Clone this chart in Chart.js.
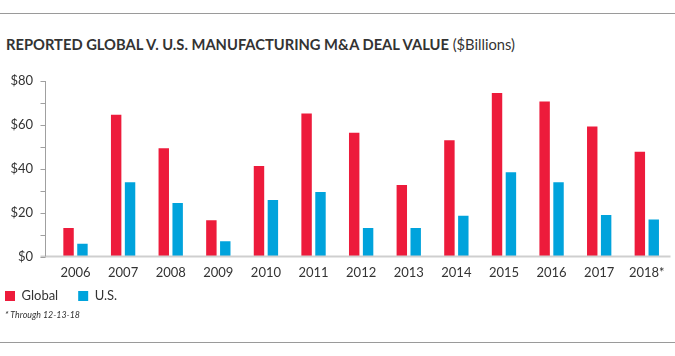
<!DOCTYPE html>
<html>
<head>
<meta charset="utf-8">
<script src="https://cdn.jsdelivr.net/npm/chart.js@4"></script>
<style>
  html, body { margin: 0; padding: 0; background: #fff; }
  #page { position: relative; width: 675px; height: 356px; overflow: hidden; background: #fff; font-family: Lato, "Open Sans", sans-serif; }
  .rule { position: absolute; left: 0; width: 675px; height: 0; border-top: 1.5px solid #9a9a9a; }
  #title { position: absolute; left: 6px; top: 38px; font-size: 14.5px; line-height: 14px; color: #333; white-space: nowrap; transform-origin: 0 0; }
  #title b { font-weight: 700; }
  #title span { font-weight: 400; }
  #note { position: absolute; left: 5px; top: 308px; font-size: 10px; line-height: 12px; font-style: italic; color: #333; white-space: nowrap; transform-origin: 0 0; }
  #wrap { position: absolute; left: -15px; top: 0; width: 690px; height: 356px; }
</style>
</head>
<body>
<div id="page">
  <div class="rule" style="top:12.5px"></div>
  <div id="title"><b>REPORTED GLOBAL V. U.S. MANUFACTURING M&amp;A DEAL VALUE</b> <span>($Billions)</span></div>
  <div id="wrap"><canvas id="c" width="690" height="356"></canvas></div>
  <div id="note">* Through 12-13-18</div>
  <div class="rule" style="top:341.5px"></div>
</div>
<script>
const years = ["2006","2007","2008","2009","2010","2011","2012","2013","2014","2015","2016","2017","2018*"];
const globalValues = [13, 64.6, 49.4, 16.5, 41.3, 65.2, 56.4, 32.6, 53, 74.5, 70.7, 59.3, 47.8];
const usValues = [5.8, 33.8, 24.4, 6.9, 25.8, 29.4, 13, 13, 18.6, 38.4, 33.8, 18.9, 16.9];
const yTickValues = [0, 20, 40, 60, 80];
const seriesNames = ["Global", "U.S."];

function fitWidth(id, target) {
  const t = document.getElementById(id);
  const w = t.getBoundingClientRect().width;
  t.style.transform = 'scaleX(' + (target / w) + ')';
}
fitWidth('title', 509);
fitWidth('note', 75);

const axisPlugin = {
  id: 'axisLines',
  afterLayout(chart) {
    if (chart.legend) {
      chart.legend.top -= 12;
      chart.legend.bottom -= 12;
    }
  },
  afterDatasetsDraw(chart) {
    const ctx = chart.ctx;
    const y = chart.scales.y;
    const axX = 60.5;
    ctx.save();
    ctx.strokeStyle = '#cfcfcf';
    ctx.lineWidth = 2;
    ctx.beginPath();
    ctx.moveTo(55.5, y.getPixelForValue(0));
    ctx.lineTo(685.5, y.getPixelForValue(0));
    ctx.stroke();
    ctx.strokeStyle = '#a0a0a0';
    ctx.lineWidth = 1;
    ctx.beginPath();
    ctx.moveTo(axX, y.getPixelForValue(80));
    ctx.lineTo(axX, y.getPixelForValue(0));
    ctx.stroke();
    for (let v = 0; v <= 80; v += 10) {
      const py = Math.round(y.getPixelForValue(v)) + 0.5;
      ctx.beginPath();
      ctx.moveTo(55.5, py);
      ctx.lineTo(axX, py);
      ctx.stroke();
    }
    ctx.restore();
  }
};

new Chart(document.getElementById('c'), {
  type: 'bar',
  data: {
    labels: years,
    datasets: [
      { label: seriesNames[0], data: globalValues, backgroundColor: '#ED1B3B', borderWidth: 0 },
      { label: seriesNames[1], data: usValues, backgroundColor: '#00A3DC', borderWidth: 0 }
    ]
  },
  options: {
    responsive: false,
    animation: false,
    devicePixelRatio: 1,
    layout: { padding: { left: 0, right: 4.4, top: 81, bottom: 31.5 } },
    datasets: { bar: { categoryPercentage: 0.584, barPercentage: 0.75 } },
    scales: {
      x: {
        grid: { display: false, drawTicks: false },
        border: { display: false },
        ticks: { color: '#333', font: { family: 'Lato', size: 13 }, padding: 9, maxRotation: 0, autoSkip: false },
        afterFit(s) { s.height = 25; }
      },
      y: {
        min: 0, max: 80,
        afterBuildTicks(s) { s.ticks = yTickValues.map(v => ({ value: v })); },
        grid: { display: false, drawTicks: false },
        border: { display: false },
        ticks: { color: '#333', font: { family: 'Lato', size: 13 }, padding: 18.7, callback: v => '$' + v },
        afterFit(s) { s.width = 66.7; }
      }
    },
    plugins: {
      legend: {
        position: 'bottom',
        align: 'start',
        labels: { boxWidth: 10, boxHeight: 10, padding: 20, color: '#333', font: { family: 'Lato', size: 13 } }
      },
      tooltip: { enabled: false }
    }
  },
  plugins: [axisPlugin]
});
</script>
</body>
</html>
